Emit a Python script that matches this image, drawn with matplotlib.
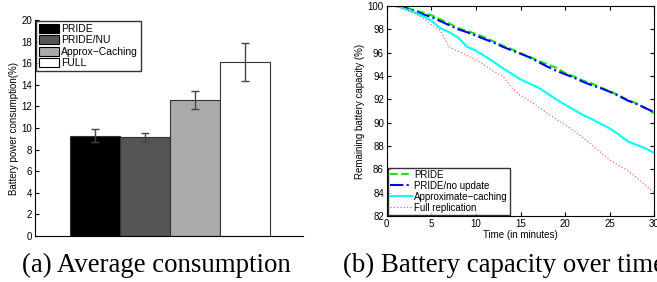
import matplotlib.pyplot as plt
import numpy as np

# (a) average consumption
schemes = ["PRIDE", "PRIDE/NU", "Approx\u2212Caching", "FULL"]
consumo = [9.27, 9.13, 12.62, 16.12]
erro = [0.6, 0.42, 0.82, 1.74]
cores_barras = ["#000000", "#555555", "#aaaaaa", "#ffffff"]

# (b) battery capacity over time
minutos = list(range(1, 31))
pride = [100.0, 99.9, 99.65, 99.45, 99.2, 98.85, 98.5, 98.1, 97.85, 97.6,
         97.3, 96.95, 96.6, 96.3, 95.95, 95.65, 95.3, 95.0, 94.7, 94.25,
         93.95, 93.6, 93.35, 93.0, 92.7, 92.35, 91.95, 91.65, 91.25, 90.8]
pride_nu = [100.0, 99.85, 99.6, 99.3, 99.05, 98.7, 98.35, 98.0, 97.75, 97.45,
            97.15, 96.85, 96.5, 96.2, 95.9, 95.6, 95.2, 94.8, 94.45, 94.15,
            93.85, 93.5, 93.2, 92.95, 92.65, 92.3, 91.9, 91.6, 91.25, 90.9]
approx = [100.0, 99.75, 99.5, 99.15, 98.74, 98.09, 97.75, 97.3, 96.5, 96.17,
          95.7, 95.2, 94.66, 94.2, 93.7, 93.35, 93.0, 92.5, 92.0, 91.54,
          91.1, 90.66, 90.3, 89.9, 89.5, 89.0, 88.4, 88.1, 87.8, 87.4]
full = [100.0, 99.7, 99.4, 99.0, 98.4, 97.9, 96.5, 96.1, 95.75, 95.4,
        94.9, 94.4, 94.0, 93.0, 92.3, 91.9, 91.35, 90.8, 90.3, 89.8,
        89.3, 88.7, 88.1, 87.45, 86.8, 86.35, 85.9, 85.3, 84.65, 84.0]

fig = plt.figure(figsize=(6.57, 2.82), dpi=100)
plt.rcParams['font.family'] = 'Liberation Sans'

# ---- left panel
ax1 = fig.add_axes([0.0533, 0.163, 0.408, 0.766])
pos = np.arange(len(schemes))
for i in range(len(schemes)):
    ax1.bar(pos[i], consumo[i], width=1.0, color=cores_barras[i], edgecolor='#333333',
            linewidth=0.8, label=schemes[i], zorder=2)
ax1.errorbar(pos, consumo, yerr=erro, fmt='none', ecolor='#444444', elinewidth=1,
             capsize=3, capthick=1, zorder=3)
ax1.set_xlim(-1.2, 4.16)
ax1.set_ylim(0, 20)
ax1.set_yticks(range(0, 21, 2))
ax1.set_xticks([])
ax1.spines['top'].set_visible(False)
ax1.spines['right'].set_visible(False)
ax1.spines['left'].set_linewidth(0.8)
ax1.spines['bottom'].set_linewidth(0.8)
ax1.tick_params(axis='y', direction='in', labelsize=7, length=3, pad=2)
ax1.set_ylabel("Battery power consumption(%)", fontsize=7, labelpad=2)
leg1 = ax1.legend(loc='upper left', fontsize=7.5, frameon=True, fancybox=False,
                  edgecolor='black', borderpad=0.25, labelspacing=0.12,
                  handlelength=2.0, handleheight=1.0, handletextpad=0.15,
                  borderaxespad=0.1)
leg1.get_frame().set_linewidth(1.0)
for h in leg1.legend_handles:
    h.set_edgecolor('black')

# ---- right panel
ax2 = fig.add_axes([0.5886, 0.234, 0.4073, 0.745])
ax2.plot(minutos, pride, '--', color='#00ee00', linewidth=1.5, label="PRIDE")
ax2.plot(minutos, pride_nu, '-.', color='#0000ff', linewidth=1.5, label="PRIDE/no update")
ax2.plot(minutos, approx, '-', color='#00ffff', linewidth=1.5, label="Approximate\u2212caching")
ax2.plot(minutos, full, ':', color='#ff7070', linewidth=0.9, label="Full replication")
ax2.set_xlim(0, 30)
ax2.set_ylim(82, 100)
ax2.set_xticks(range(0, 31, 5))
ax2.set_yticks(range(82, 101, 2))
ax2.tick_params(direction='in', labelsize=7, length=3, pad=2, top=True, right=True)
for s in ax2.spines.values():
    s.set_linewidth(0.8)
ax2.set_xlabel("Time (in minutes)", fontsize=7, labelpad=1)
ax2.set_ylabel("Remaining battery capacity (%)", fontsize=7, labelpad=2)
leg2 = ax2.legend(loc='lower left', fontsize=7, frameon=True, fancybox=False,
                  edgecolor='black', borderpad=0.2, labelspacing=0.1,
                  handlelength=2.2, handletextpad=0.3, borderaxespad=0.15)
leg2.get_frame().set_linewidth(1.0)

# captions (the reference crops the second one at the right edge)
fig.text(0.033, 0.035, "(a) Average consumption", fontsize=19.4,
         family='Liberation Serif', va='baseline')
fig.text(0.522, 0.035, "(b) Battery capacity over time", fontsize=19.4,
         family='Liberation Serif', va='baseline')

fig.savefig("out.png", dpi=100)
